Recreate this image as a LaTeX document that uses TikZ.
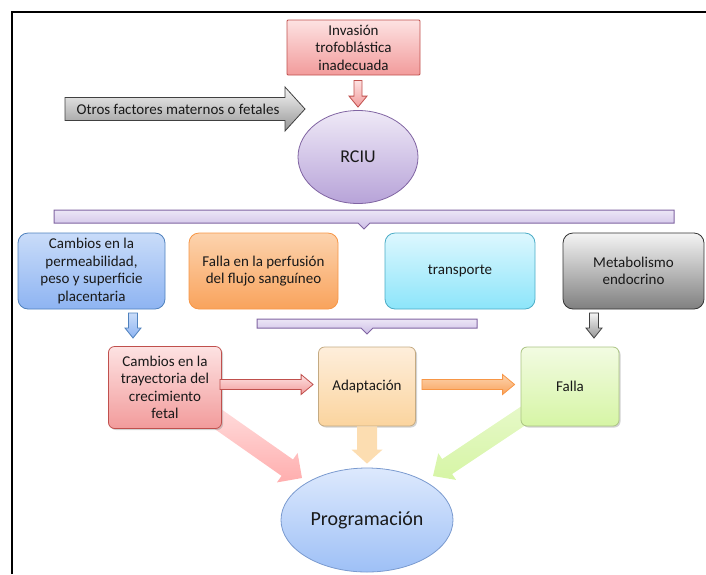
\documentclass[tikz,border=0pt]{standalone}
\usepackage{fontspec}
\setmainfont{Carlito}
\usetikzlibrary{calc,shapes.geometric,shadows}

\newcommand{\blockarrow}[6]{%
  \coordinate (bhead) at ($(#3)!#6!(#2)$);
  \path[#1] ($(#2)!#4!90:(#3)$) -- ($(bhead)!#4!-90:(#2)$)
    -- ($(bhead)!#5!-90:(#2)$) -- (#3)
    -- ($(bhead)!#5!90:(#2)$) -- ($(bhead)!#4!90:(#2)$)
    -- ($(#2)!#4!-90:(#3)$) -- cycle;
}

\begin{document}
\begin{tikzpicture}[x=1pt,y=-1pt,
    txt/.style={font=\fontsize{15}{17.5}\selectfont, text=black!90, align=center},
    box/.style={txt, draw, line width=0.8pt, rounded corners=10pt, inner sep=1.5pt},
    lowbox/.style={box, rounded corners=6pt,
        drop shadow={opacity=0.35, shadow xshift=1.5pt, shadow yshift=-1.5pt}},
    bar/.style={draw=purb, line width=1pt, top color=bart, bottom color=barb},
    pinka/.style={draw=redb, line width=0.8pt, top color=pinkt, bottom color=pinkb},
    orangea/.style={draw=orab, line width=0.8pt, top color=orat, bottom color=orab2},
    bluea/.style={draw=blub, line width=0.8pt, top color=blut, bottom color=blub2},
    graya/.style={draw=black!75, line width=0.8pt, top color=grayt, bottom color=grayb}]
    \definecolor{redb}{RGB}{192,80,77}
    \definecolor{pinkt}{RGB}{253,226,226}
    \definecolor{pinkb}{RGB}{242,155,155}
    \definecolor{purb}{RGB}{128,100,162}
    \definecolor{purt}{RGB}{239,233,247}
    \definecolor{purb2}{RGB}{183,163,216}
    \definecolor{bart}{RGB}{236,230,246}
    \definecolor{barb}{RGB}{205,190,230}
    \definecolor{blub}{RGB}{79,129,189}
    \definecolor{blut}{RGB}{201,220,249}
    \definecolor{blub2}{RGB}{142,180,242}
    \definecolor{orab}{RGB}{247,150,70}
    \definecolor{orat}{RGB}{252,211,174}
    \definecolor{orab2}{RGB}{249,163,92}
    \definecolor{cyab}{RGB}{75,172,198}
    \definecolor{cyat}{RGB}{221,247,254}
    \definecolor{cyab2}{RGB}{140,229,250}
    \definecolor{grayt}{RGB}{244,244,244}
    \definecolor{grayb}{RGB}{150,150,150}
    \definecolor{adab}{RGB}{196,170,130}
    \definecolor{adat}{RGB}{254,238,219}
    \definecolor{adab2}{RGB}{251,212,158}
    \definecolor{falb}{RGB}{170,195,130}
    \definecolor{falt}{RGB}{242,251,226}
    \definecolor{falb2}{RGB}{214,245,165}
    \definecolor{prob}{RGB}{122,154,207}
    \definecolor{prot}{RGB}{221,233,253}
    \definecolor{prob2}{RGB}{158,192,246}

    \useasboundingbox (0,0) rectangle (706,574);
    \draw[line width=1.5pt] (12,574) -- (12,12) -- (706,12);

    \node[box, rounded corners=1pt, minimum width=133pt, minimum height=55pt,
        draw=redb, top color=pinkt, bottom color=pinkb] (inv) at (353.5,47.5)
        {Invasión\\trofoblástica\\inadecuada};
    \node[ellipse, draw=purb, line width=0.8pt, top color=purt, bottom color=purb2,
        minimum width=120pt, minimum height=93pt, text=black!90,
        font=\fontsize{18}{20}\selectfont] (rciu) at (358,157) {RCIU};

    \path (inv.south -| rciu.north) ++(0,5) coordinate (p1)
        (rciu.north) ++(0,-3) coordinate (p2);
    \blockarrow{pinka}{p1}{p2}{4pt}{9pt}{11pt}

    \coordinate (otail) at (65,109);
    \coordinate (otip) at (305,109);
    \blockarrow{graya}{otail}{otip}{11.5pt}{22pt}{20pt}
    \node[txt] (otros) at (178,109) {Otros factores maternos o fetales};

    \foreach \xa/\xb/\xm/\ya/\yb in {54/674/364/210/223, 257/477/367/319/328} {
        \draw[bar] (\xa,\ya) -- (\xb,\ya) -- (\xb,\yb) -- (\xm+6,\yb)
            -- (\xm,\yb+6) -- (\xm-6,\yb) -- (\xa,\yb) -- cycle;
    }

    \node[box, minimum width=147pt, minimum height=76pt, draw=blub,
        top color=blut, bottom color=blub2] (perm) at (91.5,271)
        {Cambios en la\\permeabilidad,\\peso y superficie\\placentaria};
    \node[box, minimum width=149pt, minimum height=76pt, draw=orab,
        top color=orat, bottom color=orab2] (perf) at (263.5,271)
        {Falla en la perfusión\\del flujo sanguíneo};
    \node[box, minimum width=150pt, minimum height=76pt, draw=cyab,
        top color=cyat, bottom color=cyab2] (trans) at (460,271) {transporte};
    \node[box, minimum width=141pt, minimum height=76pt, draw=black!80,
        top color=grayt, bottom color=black!50] (endo) at (633.5,271)
        {Metabolismo\\endocrino};

    \coordinate (b1) at (133,313);
    \coordinate (b2) at (133,338);
    \blockarrow{bluea}{b1}{b2}{4.5pt}{8pt}{10pt}
    \coordinate (g1) at (594,313);
    \coordinate (g2) at (594,338);
    \blockarrow{graya}{g1}{g2}{4.5pt}{8pt}{10pt}

    \coordinate (w1) at (205,410);
    \coordinate (w2) at (302,478);
    \blockarrow{top color=pink!50, bottom color=red!32}{w1}{w2}{10pt}{18pt}{18pt}
    \coordinate (v1) at (532,410);
    \coordinate (v2) at (433,476);
    \blockarrow{top color=falt!60!falb2, bottom color=falb2}{v1}{v2}{9pt}{16pt}{17pt}

    \node[lowbox, minimum width=113pt, minimum height=82pt, draw=redb,
        top color=pinkt, bottom color=pinkb] (traj) at (165,387.5)
        {Cambios en la\\trayectoria del\\crecimiento\\fetal};
    \node[lowbox, minimum width=97pt, minimum height=79pt, draw=adab,
        top color=adat, bottom color=adab2] (adapt) at (367,386.5) {Adaptación};
    \node[lowbox, minimum width=98pt, minimum height=79pt, draw=falb,
        top color=falt, bottom color=falb2] (falla) at (570,386.5) {Falla};
    \node[ellipse, draw=prob, line width=0.8pt, top color=prot, bottom color=prob2,
        minimum width=172pt, minimum height=104pt, text=black!90,
        font=\fontsize{20}{22}\selectfont] (prog) at (367,520) {Programación};

    \path (traj.east) ++(-2,-3) coordinate (c1)
        (adapt.west |- c1) ++(-5,0) coordinate (c2)
        (adapt.east |- c1) ++(6,0) coordinate (c3)
        (falla.west |- c1) ++(-6,0) coordinate (c4);
    \blockarrow{pinka}{c1}{c2}{5pt}{10pt}{12pt}
    \blockarrow{orangea}{c3}{c4}{5pt}{10pt}{12pt}

    \path (adapt.south) coordinate (d1) (prog.north) ++(0,-4) coordinate (d2);
    \blockarrow{fill=adab2!80}{d1}{d2}{10pt}{15.5pt}{14pt}
\end{tikzpicture}
\end{document}
